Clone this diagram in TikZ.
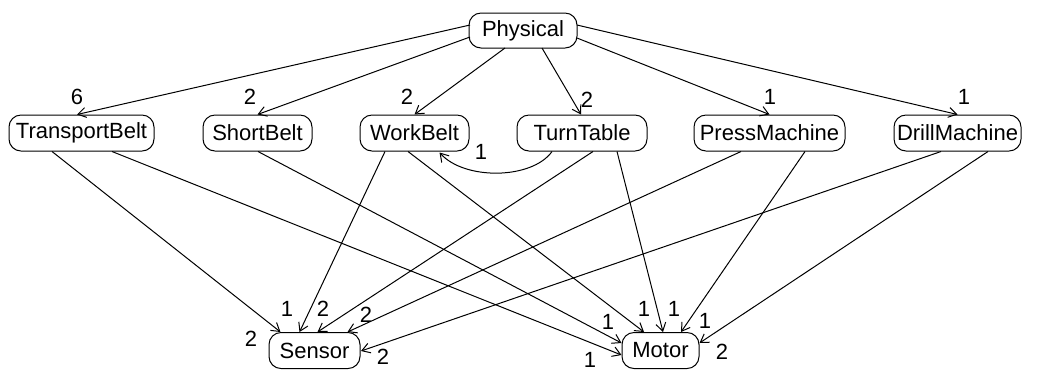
\documentclass[tikz,border=0pt]{standalone}
\usepackage{fontspec}
\setmainfont{Liberation Sans}
\usetikzlibrary{arrows.meta, calc}

\begin{document}
\begin{tikzpicture}[x=0.5pt, y=-0.5pt,
    box/.style={draw, rounded corners=6pt, minimum height=18pt, inner sep=0pt, line width=0.5pt,
                font=\fontsize{11}{13}\selectfont},
    lab/.style={inner sep=0pt, font=\fontsize{11}{13}\selectfont},
    arr/.style={-{Straight Barb[length=4pt,width=5pt]}, line width=0.5pt}]
    \useasboundingbox (0,0) rectangle (1037,372);
    % top
    \node[box, minimum width=54pt, minimum height=17.5pt] (PH) at (523,30.5) {Physical};
    % middle layer
    \node[box, minimum width=72.5pt] (TB) at (81.5,133) {TransportBelt};
    \node[box, minimum width=54.5pt] (SB) at (257.5,133) {ShortBelt};
    \node[box, minimum width=54.5pt] (WB) at (414.5,133) {WorkBelt};
    \node[box, minimum width=65pt] (TT) at (582,133) {TurnTable};
    \node[box, minimum width=75.5pt] (PM) at (769.5,133) {PressMachine};
    \node[box, minimum width=63.5pt] (DM) at (957.5,133) {DrillMachine};
    % bottom layer
    \node[box, minimum width=45.5pt] (SE) at (314.5,350.5) {Sensor};
    \node[box, minimum width=38.5pt] (MO) at (660.5,350.5) {Motor};
    % Physical to middle layer
    \foreach \dst/\sx/\sy/\tx in {TB/-53/-5.5/-4.5, SB/-53/6.5/0, WB/-18/17.5/0,
                                  TT/19/17.5/-1, PM/54/7.5/0, DM/54/-5.5/0} {
        \draw[arr] ($(PH)+(\sx,\sy)$) -- ($(\dst.north)+(\tx,0)$);
    }
    % middle layer to Sensor and Motor
    \foreach \src/\sx/\dst/\tx/\ty in {TB/-29.5/SE.north/-34/0, WB/-29.5/SE.north/-15/0,
                                       TT/11/SE.north/3/0, PM/-28.5/SE.north/33/0,
                                       DM/-16.5/SE.east/0.5/0.5, TB/30.5/MO.west/0/4.5,
                                       SB/0.5/MO.west/0/-7.5, WB/-6.5/MO.north/-16.5/0,
                                       TT/35/MO.north/2.5/0, PM/35.5/MO.north/20.5/0,
                                       DM/30.5/MO.east/0/-7.5} {
        \draw[arr] ($(\src.south)+(\sx,0)$) -- ($(\dst)+(\tx,\ty)$);
    }
    \draw[arr] ($(TT.south)+(-30,0)$) .. controls +(-20,28) and +(25,28) .. ($(WB.south)+(25,1)$);
    % multiplicities
    \foreach \name/\x/\y/\t in {l1/77/97/6, l2/250/97/2, l3/407/97/2, l4/587/100/2,
                                l5/770/97/1, l6/964/97/1, l7/481/152/1,
                                s1/251/339/2, s2/287/309/1, s3/323/309/2, s4/366/315/2, s5/383/357/2,
                                m1/608/322/1, m2/644/309/1, m3/674/309/1, m4/705/321/1,
                                m5/722/352/2, m6/590/360/1} {
        \node[lab] (\name) at (\x,\y) {\t};
    }
\end{tikzpicture}
\end{document}
